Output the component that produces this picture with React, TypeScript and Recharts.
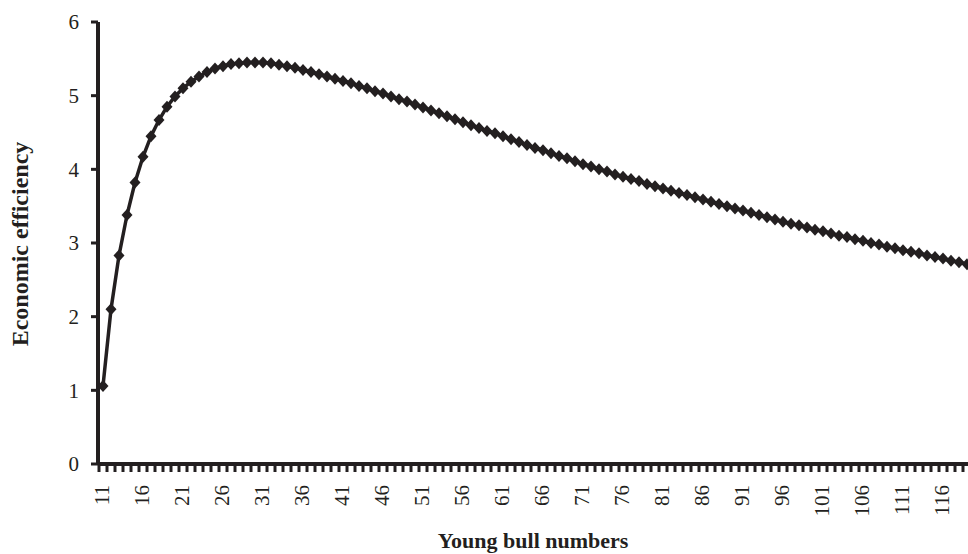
import { LineChart, Line, XAxis, YAxis } from 'recharts';

const youngBulls = [
  11, 12, 13, 14, 15, 16, 17, 18, 19, 20, 21, 22, 23, 24, 25, 26, 27, 28, 29, 30,
  31, 32, 33, 34, 35, 36, 37, 38, 39, 40, 41, 42, 43, 44, 45, 46, 47, 48, 49, 50,
  51, 52, 53, 54, 55, 56, 57, 58, 59, 60, 61, 62, 63, 64, 65, 66, 67, 68, 69, 70,
  71, 72, 73, 74, 75, 76, 77, 78, 79, 80, 81, 82, 83, 84, 85, 86, 87, 88, 89, 90,
  91, 92, 93, 94, 95, 96, 97, 98, 99, 100, 101, 102, 103, 104, 105, 106, 107, 108, 109, 110,
  111, 112, 113, 114, 115, 116, 117, 118, 119,
];

const efficiency = [
  1.06, 2.1, 2.83, 3.38, 3.82, 4.17, 4.45, 4.67, 4.85, 4.99, 5.1, 5.19, 5.26, 5.32, 5.37, 5.4, 5.43, 5.44, 5.45, 5.45,
  5.45, 5.44, 5.42, 5.4, 5.38, 5.35, 5.32, 5.29, 5.26, 5.23, 5.2, 5.17, 5.13, 5.1, 5.06, 5.03, 4.99, 4.95, 4.92, 4.88,
  4.84, 4.8, 4.76, 4.72, 4.68, 4.64, 4.6, 4.56, 4.52, 4.49, 4.45, 4.41, 4.37, 4.33, 4.29, 4.26, 4.22, 4.18, 4.15, 4.11,
  4.07, 4.04, 4.0, 3.97, 3.93, 3.9, 3.87, 3.84, 3.8, 3.77, 3.74, 3.71, 3.68, 3.65, 3.62, 3.59, 3.56, 3.53, 3.5, 3.47,
  3.44, 3.41, 3.38, 3.35, 3.32, 3.29, 3.26, 3.24, 3.21, 3.18, 3.16, 3.13, 3.1, 3.08, 3.05, 3.03, 3.0, 2.98, 2.95, 2.93,
  2.9, 2.88, 2.86, 2.83, 2.81, 2.79, 2.76, 2.74, 2.71,
];

const yTicks = [0, 1, 2, 3, 4, 5, 6];

const INK = '#231f20';
const FONT = '"Liberation Serif", "Times New Roman", serif';

const chartData = youngBulls.map((n, i) => ({ bulls: n, value: efficiency[i] }));

const Diamond = (props: any) => {
  const { cx, cy, index } = props;
  if (cx == null || cy == null) return null;
  return (
    <polygon
      key={`d-${index}`}
      points={`${cx},${cy - 6} ${cx + 5.5},${cy} ${cx},${cy + 6} ${cx - 5.5},${cy}`}
      fill={INK}
    />
  );
};

const BullTick = (props: any) => {
  const { x, y, payload } = props;
  const v = Number(payload.value);
  const showLabel = (v - 11) % 5 === 0;
  const ly = y + 21;
  return (
    <g>
      <line x1={x - 4} y1={y} x2={x - 4} y2={y + 8} stroke={INK} strokeWidth={3} />
      {showLabel && (
        <text
          x={x - 1}
          y={ly}
          transform={`rotate(-90 ${x - 1} ${ly})`}
          textAnchor="end"
          dominantBaseline="central"
          fontFamily={FONT}
          fontSize={21}
          fill={INK}
        >
          {v}
        </text>
      )}
    </g>
  );
};

const XTitle = (props: any) => {
  const { viewBox } = props;
  const cx = viewBox.x + viewBox.width / 2;
  return (
    <text x={cx} y={548} textAnchor="middle" fontFamily={FONT} fontSize={22} fontWeight="bold" fill={INK}>
      Young bull numbers
    </text>
  );
};

const YTitle = () => (
  <text
    x={20}
    y={244}
    transform="rotate(-90 20 244)"
    textAnchor="middle"
    dominantBaseline="central"
    fontFamily={FONT}
    fontSize={24}
    fontWeight="bold"
    fill={INK}
  >
    Economic efficiency
  </text>
);

export default function App() {
  return (
    <div style={{ position: 'absolute', left: 0, top: 0, width: 968, height: 554, background: '#fff' }}>
      <LineChart width={968} height={554} data={chartData} margin={{ top: 22, right: 0, left: 0, bottom: 0 }}>
        <XAxis
          dataKey="bulls"
          interval={0}
          height={90}
          padding={{ left: 5, right: 1 }}
          axisLine={{ stroke: INK, strokeWidth: 4 }}
          tickLine={false}
          tickSize={0}
          tickMargin={0}
          tick={<BullTick />}
          label={<XTitle />}
        />
        <YAxis
          domain={[0, 6]}
          ticks={yTicks}
          width={98}
          axisLine={{ stroke: INK, strokeWidth: 4 }}
          tickLine={{ stroke: INK, strokeWidth: 3 }}
          tickSize={7}
          tickMargin={12}
          tick={{ fill: INK, fontFamily: FONT, fontSize: 21 }}
          label={<YTitle />}
        />
        <Line
          type="linear"
          dataKey="value"
          stroke={INK}
          strokeWidth={3.5}
          dot={<Diamond />}
          activeDot={false}
          isAnimationActive={false}
        />
      </LineChart>
    </div>
  );
}
